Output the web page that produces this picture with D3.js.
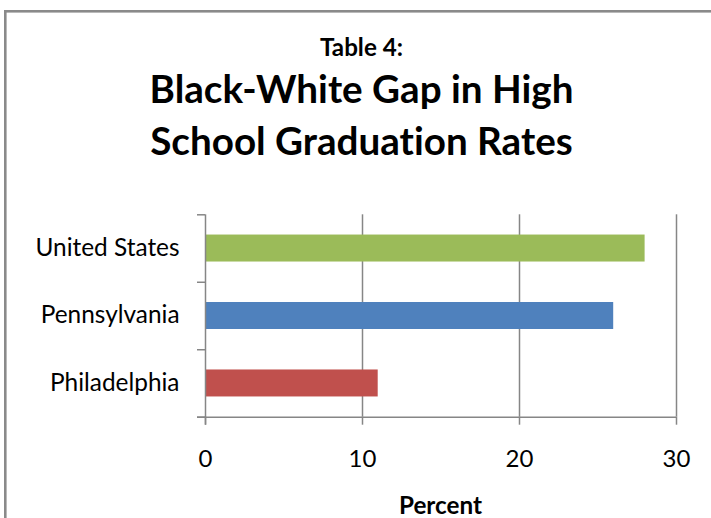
<!DOCTYPE html>
<html>
<head>
<meta charset="utf-8">
<script src="https://cdn.jsdelivr.net/npm/d3@7"></script>
<style>
  html, body { margin: 0; padding: 0; background: #fff; }
  svg { display: block; }
  text { font-family: Lato, "Open Sans", sans-serif; fill: #000; font-variant-ligatures: none; font-feature-settings: "liga" 0, "clig" 0; }
</style>
</head>
<body>
<script>
// ---- data ----
const categories = ["Philadelphia", "Pennsylvania", "United States"];
const values = [11, 26, 28];
const barColors = ["#C0504D", "#4F81BD", "#9BBB59"];
const xTicks = [0, 10, 20, 30];
const titleSmall = "Table 4:";
const titleLines = ["Black-White Gap in High", "School Graduation Rates"];
const xAxisTitle = "Percent";

const W = 711, H = 518;
const svg = d3.select("body").append("svg").attr("width", W).attr("height", H);

// outer border
svg.append("rect")
  .attr("x", 5.3).attr("y", 11.3)
  .attr("width", 760).attr("height", 560)
  .attr("fill", "#fff").attr("stroke", "#8a8a8a").attr("stroke-width", 2.6);

const plot = { left: 205, right: 676, top: 214.3, bottom: 416.7 };
const axisColor = "#868686";

const x = d3.scaleLinear().domain([0, 30]).range([plot.left, plot.right]);
const y = d3.scaleBand().domain(categories.slice().reverse())
  .range([plot.top, plot.bottom]).paddingInner(0.6).paddingOuter(0.3);
const yB = d3.scaleLinear().domain([0, categories.length]).range([plot.bottom, plot.top]);

function fit(sel, target) {
  const node = sel.node();
  const base = parseFloat(sel.attr("font-size"));
  const w = node.getComputedTextLength();
  sel.attr("font-size", (base * target / w).toFixed(2));
}

// gridlines
const grid = svg.append("g").attr("transform", `translate(0,${plot.bottom})`)
  .call(d3.axisBottom(x).tickValues(xTicks.slice(1)).tickSize(-(plot.bottom - plot.top)).tickFormat(""));
grid.select(".domain").remove();
grid.selectAll("line").attr("stroke", axisColor).attr("stroke-width", 1.5);

// bars
svg.append("g").selectAll("rect")
  .data(categories)
  .join("rect")
  .attr("x", x(0))
  .attr("y", d => y(d))
  .attr("height", y.bandwidth())
  .attr("width", (d, i) => x(values[i]) - x(0))
  .attr("fill", (d, i) => barColors[i]);

// x axis
const xa = svg.append("g").attr("transform", `translate(0,${plot.bottom})`)
  .call(d3.axisBottom(x).tickValues(xTicks).tickSize(8).tickSizeOuter(0).tickFormat(d3.format("d")));
xa.select(".domain").attr("stroke", axisColor).attr("stroke-width", 1.5)
  .attr("d", `M${plot.left - 8},0.5H${plot.right}`);
xa.selectAll(".tick line").attr("stroke", axisColor).attr("stroke-width", 1.5);
xa.selectAll(".tick text")
  .attr("y", 50.5).attr("dy", null)
  .attr("font-size", 24).attr("fill", "#000")
  .style("font-family", "Lato, sans-serif");

// y axis (boundary ticks)
const ya = svg.append("g").attr("transform", `translate(${plot.left},0)`)
  .call(d3.axisLeft(yB).tickValues(d3.range(categories.length + 1)).tickSize(8).tickSizeOuter(0).tickFormat(""));
ya.select(".domain").attr("stroke", axisColor).attr("stroke-width", 1.5)
  .attr("d", `M0.5,${plot.top}V${plot.bottom + 8}`);
ya.selectAll(".tick line").attr("stroke", axisColor).attr("stroke-width", 1.5);

// category labels
svg.append("g").selectAll("text")
  .data(categories)
  .join("text")
  .attr("x", 179.5)
  .attr("y", d => y(d) + y.bandwidth() / 2 + 7.8)
  .attr("text-anchor", "end")
  .attr("font-size", 24.4)
  .text(d => d);

// titles
const t0 = svg.append("text").attr("x", 361.5).attr("y", 55.7)
  .attr("text-anchor", "middle").attr("font-weight", "bold")
  .attr("font-size", 22).text(titleSmall);
fit(t0, 83);

const tl = [103.3, 155].map((yy, i) => svg.append("text")
  .attr("x", 361.5).attr("y", yy)
  .attr("text-anchor", "middle").attr("font-weight", "bold")
  .attr("font-size", 38).text(titleLines[i]));
fit(tl[0], 424);
tl[1].attr("font-size", tl[0].attr("font-size"));

const px = svg.append("text").attr("x", x(15)).attr("y", 514)
  .attr("text-anchor", "middle").attr("font-weight", "bold")
  .attr("font-size", 22).text(xAxisTitle);
fit(px, 83);
</script>
</body>
</html>
